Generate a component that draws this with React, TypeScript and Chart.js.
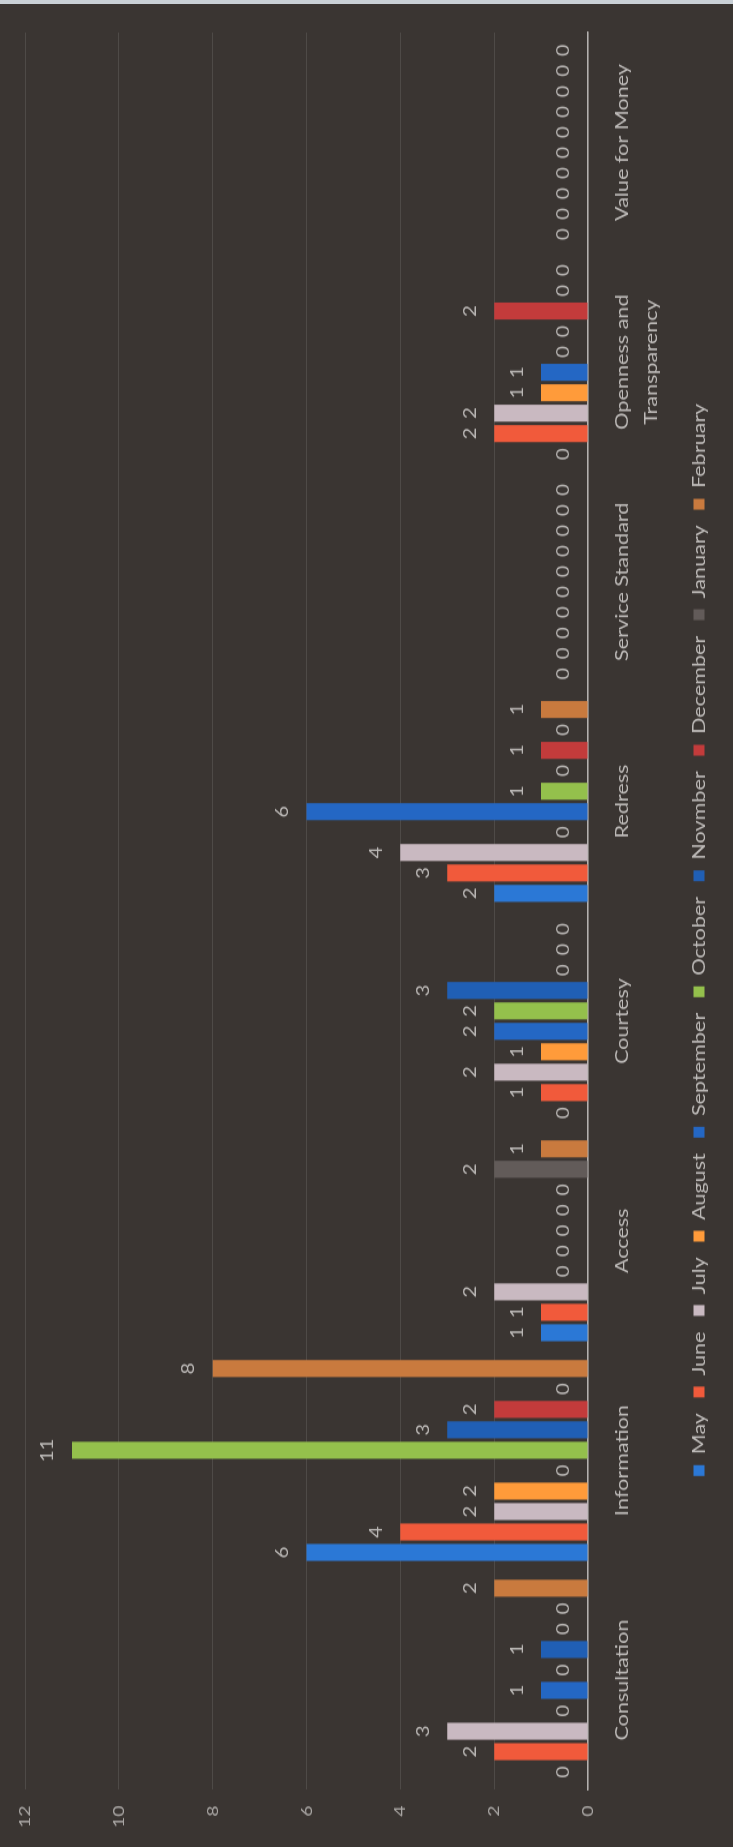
import React, { useEffect, useRef } from 'react';
import { Chart, registerables } from 'chart.js';

Chart.register(...registerables);

const categories: (string | string[])[] = [
  'Consultation',
  'Information',
  'Access',
  'Courtesy',
  'Redress',
  'Service Standard',
  ['Openness and', 'Transparency'],
  'Value for Money',
];

const months = ['May', 'June', 'July', 'August', 'September', 'October', 'Novmber', 'December', 'January', 'February'];

const mayValues = [0, 6, 1, 0, 2, 0, 0, 0];
const juneValues = [2, 4, 1, 1, 3, 0, 2, 0];
const julyValues = [3, 2, 2, 2, 4, 0, 2, 0];
const augustValues = [0, 2, 0, 1, 0, 0, 1, 0];
const septemberValues = [1, 0, 0, 2, 6, 0, 1, 0];
const octoberValues = [0, 11, 0, 2, 1, 0, 0, 0];
const novmberValues = [1, 3, 0, 3, 0, 0, 0, 0];
const decemberValues = [0, 2, 0, 0, 1, 0, 2, 0];
const januaryValues = [0, 0, 2, 0, 0, 0, 0, 0];
const februaryValues = [2, 8, 1, 0, 1, 0, 0, 0];

const seriesValues = [
  mayValues, juneValues, julyValues, augustValues, septemberValues,
  octoberValues, novmberValues, decemberValues, januaryValues, februaryValues,
];

const seriesColors = [
  '#2b78d6', '#f15a3b', '#c9b9c1', '#ff9b3a', '#2467c4',
  '#94c04c', '#205fb5', '#c33b3b', '#625b59', '#c97a3e',
];

const valueTicks = [0, 2, 4, 6, 8, 10, 12];

const STRETCH = 1.2;
const PAGE_W = 733;
const PAGE_H = 1847;
const CANVAS_W = Math.round(PAGE_H / STRETCH);
const CANVAS_H = PAGE_W;

const valueLabels = {
  id: 'valueLabels',
  afterDatasetsDraw(chart: any) {
    const ctx = chart.ctx;
    ctx.save();
    ctx.font = '17px Lato';
    ctx.fillStyle = '#b9b6b4';
    ctx.textAlign = 'center';
    ctx.textBaseline = 'middle';
    chart.data.datasets.forEach((ds: any, i: number) => {
      const meta = chart.getDatasetMeta(i);
      meta.data.forEach((bar: any, j: number) => {
        ctx.fillText(String(ds.data[j]), bar.x, bar.y - 24);
      });
    });
    ctx.restore();
  },
};

export default function App() {
  const canvasRef = useRef<HTMLCanvasElement | null>(null);

  useEffect(() => {
    if (!canvasRef.current) return;
    Chart.defaults.font.family = 'Lato';
    const chart = new Chart(canvasRef.current, {
      type: 'bar',
      data: {
        labels: categories,
        datasets: months.map((m, i) => ({
          label: m,
          data: seriesValues[i],
          backgroundColor: seriesColors[i],
          borderWidth: 0,
          categoryPercentage: 0.93,
          barPercentage: 0.83,
        })),
      },
      options: {
        responsive: false,
        animation: false,
        devicePixelRatio: 1,
        layout: { padding: { left: 0, right: 27, top: 25, bottom: 15 } },
        plugins: {
          legend: {
            position: 'bottom',
            labels: {
              color: '#bdbab8',
              font: { size: 18, family: 'Lato' },
              boxWidth: 9,
              boxHeight: 11,
              padding: 13,
            },
          },
          tooltip: { enabled: false },
        },
        scales: {
          x: {
            grid: { display: false, drawTicks: false },
            border: { display: true, color: '#b3b0ae', width: 1.5 },
            ticks: {
              color: '#bdbab8',
              font: { size: 18, family: 'Lato', lineHeight: 1.6 },
              padding: 20,
              maxRotation: 0,
              autoSkip: false,
            },
            afterFit: (s: any) => { s.height = 89; },
          },
          y: {
            min: 0,
            max: 12,
            afterBuildTicks: (s: any) => { s.ticks = valueTicks.map((v) => ({ value: v })); },
            ticks: {
              color: '#a9a6a4',
              font: { size: 16, family: 'Lato' },
              padding: 13,
            },
            grid: { color: 'rgba(255,255,255,0.10)', drawTicks: false },
            border: { display: false },
            afterFit: (s: any) => { s.width = 47.5; },
          },
        },
      },
      plugins: [valueLabels],
    } as any);
    return () => chart.destroy();
  }, []);

  return (
    <div
      style={{
        position: 'fixed',
        left: 0,
        top: 0,
        width: PAGE_W,
        height: PAGE_H,
        overflow: 'hidden',
        background: '#3a3532',
      }}
    >
      <div
        style={{
          position: 'absolute',
          left: 0,
          top: 0,
          width: CANVAS_W,
          height: CANVAS_H,
          transformOrigin: '0 0',
          transform: `translateY(${PAGE_H}px) rotate(-90deg) scaleX(${STRETCH})`,
        }}
      >
        <canvas ref={canvasRef} width={CANVAS_W} height={CANVAS_H} style={{ display: 'block' }} />
      </div>
      <div style={{ position: 'absolute', left: 0, top: 0, width: PAGE_W, height: 4, background: '#c9d0d6' }} />
    </div>
  );
}
